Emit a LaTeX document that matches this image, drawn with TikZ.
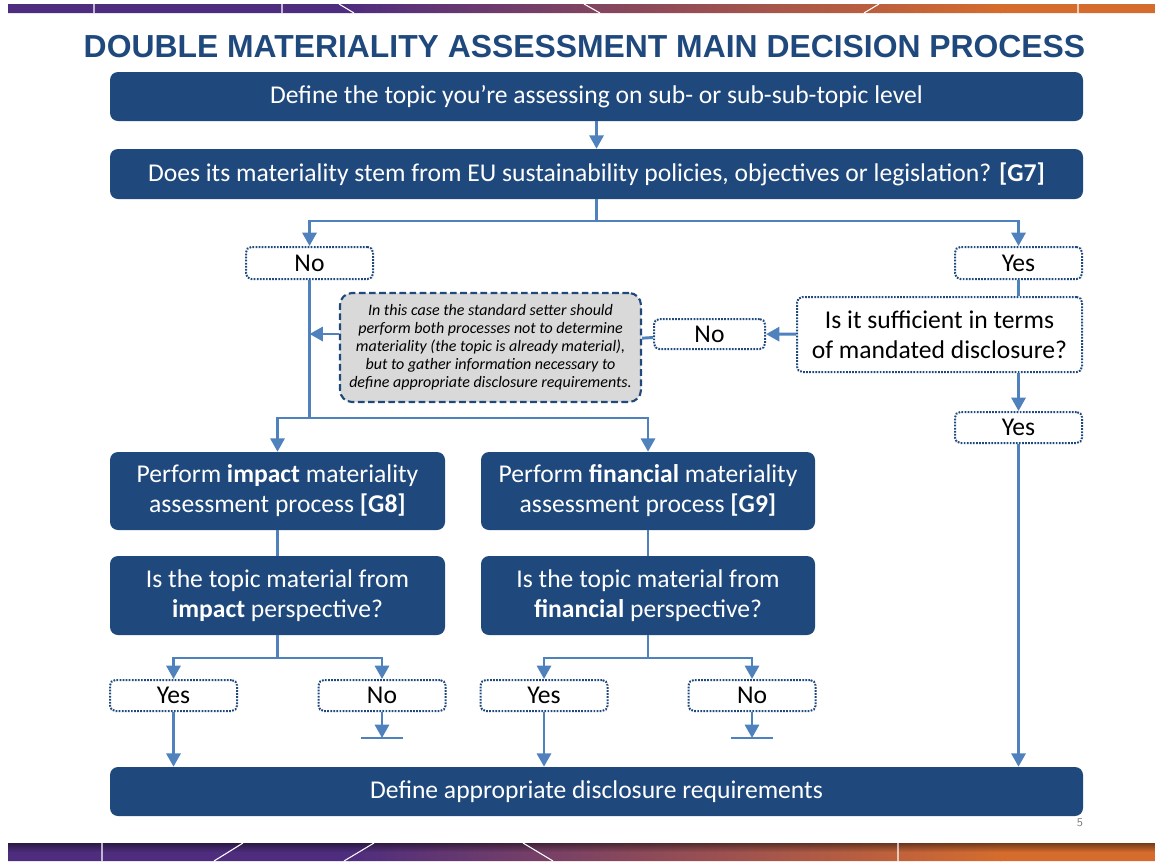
\documentclass[tikz,border=0pt]{standalone}
\usepackage{fontspec}
\setmainfont{Carlito}
\newfontfamily\titlefont{Liberation Sans}
\usetikzlibrary{arrows.meta,fadings}
\definecolor{boxblue}{HTML}{1F497D}
\definecolor{linkblue}{HTML}{4F81BD}
\definecolor{notegray}{HTML}{D9D9D9}
\definecolor{barpurple}{HTML}{4F2D7E}
\definecolor{barorange}{HTML}{D56C2E}
\begin{document}
\begin{tikzpicture}[x=.75pt,y=-.75pt,
  sz/.style 2 args={minimum width=#1*.75pt,minimum height=#2*.75pt},
  bluebox/.style={fill=boxblue,rounded corners=6pt,text=white,align=center,inner sep=0pt,font=\fontsize{19.2}{22.5}\selectfont},
  answer/.style={draw=boxblue,fill=white,line width=1.5pt,dash pattern=on 1.3pt off 1pt,rounded corners=4pt,inner sep=0pt,align=center,font=\fontsize{19.2}{22.5}\selectfont},
  notebox/.style={draw=boxblue,fill=notegray,line width=1.6pt,dash pattern=on 5pt off 2.6pt,rounded corners=9pt,inner sep=0pt,align=center,font=\fontsize{12}{13.5}\selectfont\itshape},
  link/.style={draw=linkblue,line width=2.2pt},
  arr/.style={link,-{Triangle[width=10.5pt,length=10pt]}},
  sep/.style={draw=white,line width=.8pt}]
\useasboundingbox (0,0) rectangle (1155,861);
% bars
\fill[barpurple] (8,4) rectangle (350,13) (8,843) rectangle (350,861);
\shade[left color=barpurple,right color=barorange] (349,4) rectangle (1001,13) (349,843) rectangle (1001,861);
\fill[barorange] (1000,4) rectangle (1155,13) (1000,843) rectangle (1155,861);
\fill[black,fill opacity=.45,path fading=south] (8,843) rectangle (1155,852);
\draw[sep] (94,4)--(94,13) (282,4)--(282,13) (1078,4)--(1078,13) (339,4)--(354,13) (584,4)--(600,13) (879,4)--(864,13);
\draw[sep] (102,843)--(102,861) (898,843)--(898,861) (243,843)--(214,861) (374,843)--(344,861) (523,843)--(553,861);
\node[text=gray,font=\sffamily\fontsize{9}{10}\selectfont] (pagenum) at (1080,823) {5};
% title
\node[text=boxblue,font=\titlefont\bfseries\fontsize{23.9}{26}\selectfont] (title) at (584.5,47) {DOUBLE MATERIALITY ASSESSMENT MAIN DECISION PROCESS};
% boxes
\node[bluebox,sz={973}{49}] (topic) at (596.5,96.5) {Define the topic you’re assessing on sub- or sub-sub-topic level};
\node[bluebox,sz={973}{50}] (eupol) at (596.5,174) {Does its materiality stem from EU sustainability policies, objectives or legislation? \textbf{[G7]}};
\node[answer,sz={127}{32}] (no1) at (309.5,263) {No};
\node[answer,sz={127}{32}] (yes1) at (1018.5,263) {Yes};
\node[answer,sz={285}{75}] (suff) at (939.5,334.5) {Is it sufficient in terms\\of mandated disclosure?};
\node[answer,sz={111}{30}] (no2) at (709.5,334) {No};
\node[notebox,sz={301}{109}] (note) at (490.5,347.5) {In this case the standard setter should\\perform both processes not to determine\\materiality (the topic is already material),\\but to gather information necessary to\\define appropriate disclosure requirements.};
\node[answer,sz={127}{31}] (yes2) at (1018.5,427.5) {Yes};
\node[bluebox,sz={335}{78}] (impact) at (277.5,491) {Perform \textbf{impact} materiality\\assessment process \textbf{[G8]}};
\node[bluebox,sz={334}{78}] (financial) at (648,491) {Perform \textbf{financial} materiality\\assessment process \textbf{[G9]}};
\node[bluebox,sz={335}{79}] (impq) at (277.5,595.5) {Is the topic material from\\\textbf{impact} perspective?};
\node[bluebox,sz={334}{79}] (finq) at (648,595.5) {Is the topic material from\\\textbf{financial} perspective?};
\node[answer,sz={127}{31}] (yes3) at (173.5,695.5) {Yes};
\node[answer,sz={127}{31}] (no3) at (382,695.5) {No};
\node[answer,sz={127}{31}] (yes4) at (544,695.5) {Yes};
\node[answer,sz={127}{31}] (no4) at (752,695.5) {No};
\node[bluebox,sz={973}{49}] (disclose) at (596.5,791.5) {Define appropriate disclosure requirements};
% connectors
\coordinate (split1) at (596.5,221);
\coordinate (split2) at (309.5,418);
\coordinate (split3) at (277.5,658);
\coordinate (split4) at (648,658);
\coordinate (stop3) at (382,738);
\coordinate (stop4) at (752,738);
\draw[arr] (topic)--(eupol);
\draw[link] (eupol)--(split1);
\draw[arr] (split1)-|(no1);
\draw[arr] (split1)-|(yes1);
\draw[link] (yes1)--(suff.north-|yes1);
\draw[arr] (suff)--(no2);
\draw[link] (no2)--(note);
\draw[arr] (note.west|-no2)--(no1.south|-no2);
\draw[link] (no1)--(split2);
\draw[arr] (split2)-|(impact);
\draw[arr] (split2)-|(financial);
\draw[arr] (suff.south-|yes2)--(yes2);
\draw[arr] (yes2)--(disclose.north-|yes2);
\draw[link] (impact)--(impq) (financial)--(finq);
\draw[link] (impq)--(split3) (finq)--(split4);
\draw[arr] (split3)-|(yes3);
\draw[arr] (split3)-|(no3);
\draw[arr] (split4)-|(yes4);
\draw[arr] (split4)-|(no4);
\draw[arr] (yes3)--(disclose.north-|yes3);
\draw[arr] (yes4)--(disclose.north-|yes4);
\draw[arr] (no3)--(stop3);
\draw[arr] (no4)--(stop4);
\draw[link] (stop3) +(-21,0)--+(21,0) (stop4) +(-21,0)--+(21,0);
\end{tikzpicture}
\end{document}
